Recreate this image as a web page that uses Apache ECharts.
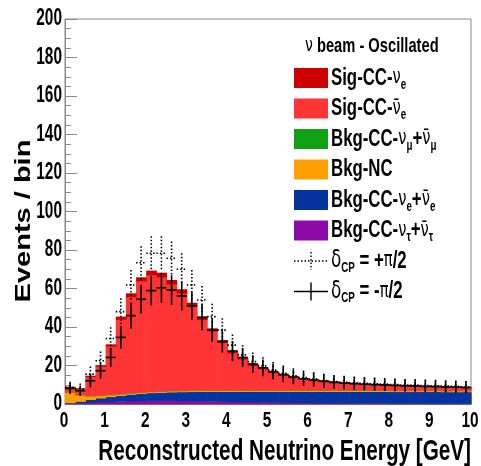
<!DOCTYPE html>
<html>
<head>
<meta charset="utf-8">
<script src="https://cdn.jsdelivr.net/npm/echarts@6/dist/echarts.min.js"></script>
<style>
  html, body { margin: 0; padding: 0; background: #fff; }
  #chart { width: 481px; height: 466px; }
</style>
</head>
<body>
<div id="chart"></div>
<script>
// Reconstructed-energy histogram, 0.25 GeV bins from 0 to 10 GeV
const BIN_W = 0.25;
const binLow = [0, 0.25, 0.5, 0.75, 1, 1.25, 1.5, 1.75, 2, 2.25,
  2.5, 2.75, 3, 3.25, 3.5, 3.75, 4, 4.25, 4.5, 4.75,
  5, 5.25, 5.5, 5.75, 6, 6.25, 6.5, 6.75, 7, 7.25,
  7.5, 7.75, 8, 8.25, 8.5, 8.75, 9, 9.25, 9.5, 9.75];

// Stacked components (events per bin), listed bottom to top
const bkgNutau = [0.2, 0.4, 0.7, 1.0, 1.2, 1.4, 1.6, 1.7, 1.8, 1.8,
  1.8, 1.7, 1.6, 1.5, 1.4, 1.3, 1.2, 1.1, 1.0, 0.9,
  0.8, 0.7, 0.7, 0.6, 0.6, 0.5, 0.5, 0.5, 0.4, 0.4,
  0.4, 0.4, 0.3, 0.3, 0.3, 0.3, 0.3, 0.3, 0.3, 0.3];
const bkgBeamNue = [0.4, 1.0, 1.6, 2.1, 2.6, 3.0, 3.4, 3.7, 4.0, 4.2,
  4.4, 4.6, 4.8, 5.0, 5.1, 5.2, 5.3, 5.4, 5.5, 5.6,
  5.7, 5.8, 5.8, 5.9, 5.9, 6.0, 6.0, 6.0, 6.1, 6.1,
  6.1, 6.1, 6.1, 6.1, 6.1, 6.1, 6.1, 6.0, 6.0, 6.0];
const bkgNC = [5.4, 3.2, 1.8, 1.2, 0.9, 0.7, 0.6, 0.5, 0.5, 0.5,
  0.5, 0.5, 0.5, 0.5, 0.5, 0.5, 0.5, 0.5, 0.5, 0.5,
  0.5, 0.5, 0.5, 0.5, 0.5, 0.5, 0.5, 0.5, 0.5, 0.5,
  0.5, 0.5, 0.5, 0.5, 0.5, 0.5, 0.5, 0.5, 0.5, 0.5];
const bkgNumu = [0.2, 0.2, 0.2, 0.2, 0.2, 0.2, 0.2, 0.2, 0.2, 0.2,
  0.2, 0.2, 0.2, 0.2, 0.2, 0.2, 0.2, 0.2, 0.2, 0.2,
  0.2, 0.2, 0.2, 0.2, 0.2, 0.2, 0.2, 0.2, 0.2, 0.2,
  0.2, 0.2, 0.2, 0.2, 0.2, 0.2, 0.2, 0.2, 0.2, 0.2];
const sigNuebar = [2.5, 3.0, 9.9, 15.0, 25.1, 38.6, 49.9, 57.7, 60.6, 59.3,
  55.4, 50.6, 43.7, 36.6, 30.7, 24.8, 19.4, 16.0, 12.7, 11.0,
  9.0, 7.6, 6.4, 5.5, 4.8, 4.2, 3.7, 3.4, 3.1, 2.8,
  2.6, 2.4, 2.3, 2.1, 2.0, 1.8, 1.7, 1.6, 1.5, 1.3];
const sigNue = [0.3, 0.3, 0.5, 0.7, 1.0, 1.5, 1.8, 2.0, 2.2, 2.2,
  2.1, 2.0, 1.8, 1.6, 1.4, 1.2, 1.1, 1.0, 0.9, 0.8,
  0.8, 0.7, 0.7, 0.6, 0.6, 0.6, 0.6, 0.5, 0.5, 0.5,
  0.5, 0.5, 0.5, 0.5, 0.5, 0.5, 0.5, 0.5, 0.5, 0.5];

// Predicted spectra for the two CP phases (points with Poisson errors)
const dcpPlus = [8.6, 7.8, 15.5, 22.5, 34.0, 48.0, 61.8, 73.4, 78.3, 78.3,
  75.7, 70.0, 61.8, 54.0, 45.4, 38.4, 30.6, 25.5, 22.0, 19.8,
  17.6, 16.0, 14.7, 13.7, 12.9, 12.2, 11.7, 11.3, 11.0, 10.7,
  10.5, 10.3, 10.1, 9.9, 9.8, 9.6, 9.5, 9.3, 9.2, 9.0];
const dcpMinus = [8.1, 6.9, 12.1, 17.3, 24.2, 34.6, 45.9, 54.4, 58.9, 60.4,
  59.2, 56.1, 50.9, 45.0, 38.4, 32.4, 27.5, 24.2, 20.8, 18.8,
  16.8, 15.3, 14.0, 13.1, 12.6, 11.9, 11.3, 10.9, 10.6, 10.3,
  10.1, 9.9, 9.7, 9.5, 9.4, 9.2, 9.1, 8.9, 8.8, 8.6];

// Axis tick labels and titles
const xTickLabels = [0, 1, 2, 3, 4, 5, 6, 7, 8, 9, 10];
const yTickLabels = [0, 20, 40, 60, 80, 100, 120, 140, 160, 180, 200];
const xTitle = 'Reconstructed Neutrino Energy [GeV]';
const yTitle = 'Events / bin';

// Legend text (rich-text markup: n = main text, v = Greek glyph, s = subscript)
const legendHeader = '{hv|ν}{h| beam - Oscillated}';
const legendRows = [
  { text: '{n|Sig-CC-}{v|ν}{s|e}', color: '#cc0000' },
  { text: '{n|Sig-CC-}{v|ν\u0304}{s|e}', color: '#ff3434' },
  { text: '{n|Bkg-CC-}{v|ν}{s|μ}{n|+}{v|ν\u0304}{s|μ}', color: '#0fa014' },
  { text: '{n|Bkg-NC}', color: '#ffa000' },
  { text: '{n|Bkg-CC-}{v|ν}{s|e}{n|+}{v|ν\u0304}{s|e}', color: '#06349e' },
  { text: '{n|Bkg-CC-}{v|ν}{s|τ}{n|+}{v|ν\u0304}{s|τ}', color: '#8c0aa8' },
  { text: '{d|δ}{s|CP}{n| = +}{v|π}{n|/2}', marker: 'dotted' },
  { text: '{d|δ}{s|CP}{n| = -}{v|π}{n|/2}', marker: 'solid' }
];

const FONT = "'Liberation Sans',Arial,Helvetica,sans-serif";
const GREEK = "'DejaVu Sans',sans-serif";
const AXIS_GRAY = '#8a8a8a';
const SQUEEZE = 0.7;   // condensed lettering

// Stack order: first entry sits on the axis
const layers = [
  { values: bkgNutau, color: legendRows[5].color },
  { values: bkgBeamNue, color: legendRows[4].color },
  { values: bkgNC, color: legendRows[3].color },
  { values: bkgNumu, color: legendRows[2].color },
  { values: sigNuebar, color: legendRows[1].color },
  { values: sigNue, color: legendRows[0].color }
];

function renderBin(params, api) {
  const x0 = api.value(0), lo = api.value(1), hi = api.value(2);
  const pTop = api.coord([x0, hi]);
  const pBot = api.coord([x0 + BIN_W, lo]);
  return {
    type: 'rect',
    shape: { x: pTop[0], y: pTop[1], width: pBot[0] - pTop[0] + 0.6, height: pBot[1] - pTop[1] + 0.4 },
    style: { fill: api.visual('color') }
  };
}

function pointRenderer(dash) {
  return function (params, api) {
    const xc = api.value(0), v = api.value(1), err = Math.sqrt(v);
    const c = api.coord([xc, v]);
    const top = api.coord([xc, v + err]);
    const bot = api.coord([xc, Math.max(0, v - err)]);
    const left = api.coord([xc - BIN_W / 2, v]);
    const right = api.coord([xc + BIN_W / 2, v]);
    const st = { stroke: '#000', lineWidth: 1.6, lineDash: dash };
    return {
      type: 'group',
      children: [
        { type: 'line', shape: { x1: c[0], y1: top[1], x2: c[0], y2: bot[1] }, style: st },
        { type: 'line', shape: { x1: left[0], y1: c[1], x2: right[0], y2: c[1] }, style: st }
      ]
    };
  };
}

const series = [];
const running = binLow.map(() => 0);
layers.forEach(function (L) {
  const data = binLow.map(function (x, i) {
    const lo = running[i];
    running[i] = lo + L.values[i];
    return [x, lo, running[i]];
  });
  series.push({
    type: 'custom', renderItem: renderBin, data: data,
    encode: { x: 0, y: 2 }, itemStyle: { color: L.color },
    silent: true, animation: false, z: 2
  });
});
series.push({
  type: 'custom', renderItem: pointRenderer([1.5, 2]),
  data: binLow.map((x, i) => [x + BIN_W / 2, dcpPlus[i]]),
  encode: { x: 0, y: 1 }, silent: true, animation: false, z: 3
});
series.push({
  type: 'custom', renderItem: pointRenderer(null),
  data: binLow.map((x, i) => [x + BIN_W / 2, dcpMinus[i]]),
  encode: { x: 0, y: 1 }, silent: true, animation: false, z: 4
});

const chart = echarts.init(document.getElementById('chart'), null, { renderer: 'canvas' });
chart.setOption({
  animation: false,
  backgroundColor: '#fff',
  grid: {
    left: 65, top: 19, right: 10, bottom: 62,
    containLabel: false, outerBoundsMode: 'none',
    show: true, borderColor: AXIS_GRAY, borderWidth: 1, backgroundColor: 'transparent'
  },
  xAxis: {
    type: 'value', min: 0, max: 10, interval: 1,
    axisLine: { show: true, lineStyle: { color: AXIS_GRAY } },
    axisTick: { show: false },
    splitLine: { show: false },
    axisLabel: { show: false }
  },
  yAxis: {
    type: 'value', min: 0, max: 200, interval: 20,
    axisLine: { show: true, lineStyle: { color: AXIS_GRAY } },
    axisTick: { show: true, inside: true, length: 12, lineStyle: { color: AXIS_GRAY } },
    minorTick: { show: true, splitNumber: 4, length: 6, lineStyle: { color: AXIS_GRAY } },
    splitLine: { show: false },
    axisLabel: { show: false }
  },
  series: series
});

// Condensed bold text element anchored at (x, y)
function label(text, x, y, size, align, extra) {
  return Object.assign({
    type: 'text', x: x, y: y, scaleX: SQUEEZE, silent: true,
    style: {
      text: String(text), x: 0, y: 0, fill: '#000',
      fontFamily: FONT, fontWeight: 'bold', fontSize: size,
      align: align, textAlign: align, verticalAlign: 'middle', textVerticalAlign: 'middle'
    }
  }, extra || {});
}

const graphics = [];
// Tick labels placed through the axis scales
xTickLabels.forEach(function (v) {
  const px = chart.convertToPixel({ xAxisIndex: 0 }, v);
  graphics.push(label(v, px - 1, 421, 22, 'center'));
});
yTickLabels.forEach(function (v) {
  const py = chart.convertToPixel({ yAxisIndex: 0 }, v);
  graphics.push(label(v, 62, py, 23, 'right', { scaleX: 0.67 }));
});
// Axis titles
graphics.push(label(xTitle, 471, 452, 30, 'right', { scaleX: 0.69 }));
graphics.push(label(yTitle, 24, 221, 29, 'center', { scaleX: 1, scaleY: 0.78, rotation: Math.PI / 2 }));

// Legend in the upper right of the frame
const rich = {
  h: { fontFamily: FONT, fontWeight: 'bold', fontSize: 21, lineHeight: 26, fill: '#000' },
  hv: { fontFamily: GREEK, fontSize: 20, lineHeight: 26, fill: '#000' },
  n: { fontFamily: FONT, fontWeight: 'bold', fontSize: 24, lineHeight: 28, fill: '#000' },
  v: { fontFamily: GREEK, fontSize: 21, lineHeight: 28, fill: '#000' },
  d: { fontFamily: GREEK, fontSize: 24, lineHeight: 28, fill: '#000' },
  s: { fontFamily: FONT, fontWeight: 'bold', fontSize: 14, lineHeight: 13, verticalAlign: 'bottom', fill: '#000' }
};
const LEG_X = 294, LEG_W = 34, LEG_Y0 = 78, LEG_DY = 30.5;
graphics.push({
  type: 'text', x: 305, y: 46, scaleX: SQUEEZE, silent: true,
  style: { text: legendHeader, rich: rich, x: 0, y: 0, verticalAlign: 'middle', textVerticalAlign: 'middle' }
});
legendRows.forEach(function (row, k) {
  const yc = LEG_Y0 + k * LEG_DY;
  if (row.color) {
    graphics.push({ type: 'rect', silent: true, shape: { x: LEG_X, y: yc - 10, width: LEG_W, height: 20 }, style: { fill: row.color } });
  } else {
    const dash = row.marker === 'dotted' ? [1.5, 2] : null;
    const st = { stroke: '#000', lineWidth: 1.4, lineDash: dash };
    graphics.push({ type: 'line', silent: true, shape: { x1: LEG_X, y1: yc, x2: LEG_X + LEG_W, y2: yc }, style: st });
    graphics.push({ type: 'line', silent: true, shape: { x1: LEG_X + LEG_W / 2, y1: yc - 9, x2: LEG_X + LEG_W / 2, y2: yc + 9 }, style: st });
  }
  graphics.push({
    type: 'text', x: LEG_X + LEG_W + 3, y: yc, scaleX: SQUEEZE, silent: true,
    style: { text: row.text, rich: rich, x: 0, y: 0, verticalAlign: 'middle', textVerticalAlign: 'middle' }
  });
});

chart.setOption({ graphic: graphics });
</script>
</body>
</html>
